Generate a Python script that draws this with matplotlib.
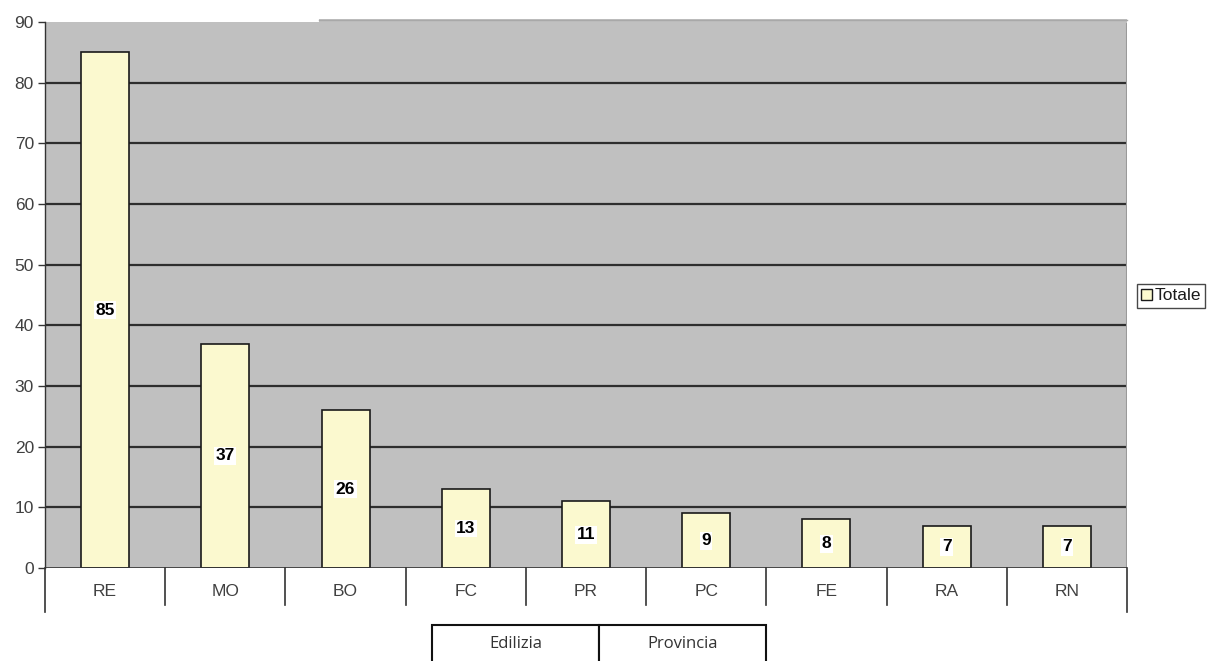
import matplotlib
matplotlib.use("Agg")
import matplotlib.pyplot as plt
import matplotlib.transforms as mtransforms
from matplotlib.patches import Rectangle, Patch
from matplotlib.lines import Line2D

# Totale per provincia
province = ["RE", "MO", "BO", "FC", "PR", "PC", "FE", "RA", "RN"]
totale = [85, 37, 26, 13, 11, 9, 8, 7, 7]
y_ticks = [0, 10, 20, 30, 40, 50, 60, 70, 80, 90]
filtri = ["Edilizia", "Provincia"]

W, H = 1221, 661
fig = plt.figure(figsize=(W / 100, H / 100), dpi=100)
plt.rcParams['font.family'] = ['Liberation Sans', 'DejaVu Sans']

left, right, bottom, top = 45, 1127, 568, 22
ax = fig.add_axes([left / W, 1 - bottom / H, (right - left) / W, (bottom - top) / H])
ax.set_facecolor("#c0c0c0")

x = list(range(len(province)))
ax.bar(x, totale, width=0.4, color="#fbf9cf", edgecolor="#1a1a1a", linewidth=1.2, zorder=3)

ax.set_xlim(-0.5, len(province) - 0.5)
ax.set_ylim(0, 90)
ax.set_yticks(y_ticks)
ax.set_yticklabels([str(v) for v in y_ticks], fontsize=12.5, color="#404040")
ax.tick_params(axis="y", length=5, width=1, color="#333333", pad=3)
ax.tick_params(axis="x", length=0, labelbottom=False)

# gridlines
for v in y_ticks[1:-1]:
    ax.axhline(v, color="#2e2e2e", linewidth=1.6, zorder=1)

for name in ["top", "bottom", "right"]:
    ax.spines[name].set_visible(False)
ax.spines["left"].set_color("#333333")
ax.spines["left"].set_linewidth(1)
ax.axhline(0, color="#333333", linewidth=1.2, zorder=4)
ax.axvline(len(province) - 0.5, color="#9a9a9a", linewidth=1.5, zorder=2)

# value labels centred in each bar
for xi, v in zip(x, totale):
    ax.text(xi, v / 2, str(v), ha="center", va="center", fontsize=12.5,
            fontweight="bold", color="black", zorder=5,
            bbox=dict(boxstyle="square,pad=0.08", facecolor="white", edgecolor="none"))

# category axis below the plot, with separators
trans = mtransforms.blended_transform_factory(ax.transData, fig.transFigure)
y0 = 1 - bottom / H
for i in range(len(province) + 1):
    xb = i - 0.5
    depth = 44 if i in (0, len(province)) else 37
    fig.add_artist(Line2D([xb, xb], [y0, y0 - depth / H], transform=trans,
                          color="#333333", linewidth=1.2))
for xi, name in zip(x, province):
    fig.text(xi, 1 - 592 / H, name, transform=trans, ha="center", va="center",
             fontsize=12.5, color="#404040")

# little strip above the plot area on the right side
fig.add_artist(Rectangle((319 / W, 1 - 23 / H), (right - 319) / W, 3.5 / H,
                         transform=fig.transFigure, facecolor="#c0c0c0",
                         edgecolor="none"))
fig.add_artist(Line2D([319 / W, right / W], [1 - 20 / H, 1 - 20 / H],
                      transform=fig.transFigure, color="#a8a8a8", linewidth=1))

# legend
leg = fig.legend(handles=[Patch(facecolor="#fbf9cf", edgecolor="#1a1a1a", label="Totale")],
                 loc="center left", bbox_to_anchor=(1137 / W, 1 - 296 / H),
                 fontsize=12.5, frameon=True, fancybox=False, handlelength=0.6,
                 handleheight=0.6, handletextpad=0.15, borderpad=0.25,
                 borderaxespad=0)
leg.get_frame().set_edgecolor("#1a1a1a")
leg.get_frame().set_linewidth(1)
for t in leg.get_texts():
    t.set_color("#1a1a1a")

# filter buttons at the bottom
bx = [432, 599, 766]
by_top = 625
for i, lab in enumerate(filtri):
    fig.add_artist(Rectangle((bx[i] / W, -0.01), (bx[i + 1] - bx[i]) / W,
                             1 - by_top / H + 0.01, transform=fig.transFigure,
                             facecolor="white", edgecolor="#111111", linewidth=1.5))
    fig.text((bx[i] + bx[i + 1]) / 2 / W, 1 - 644 / H, lab, ha="center", va="center",
             fontsize=12, color="#333333", family=["Open Sans", "DejaVu Sans"])

fig.savefig("out.png", dpi=100, facecolor="white")
